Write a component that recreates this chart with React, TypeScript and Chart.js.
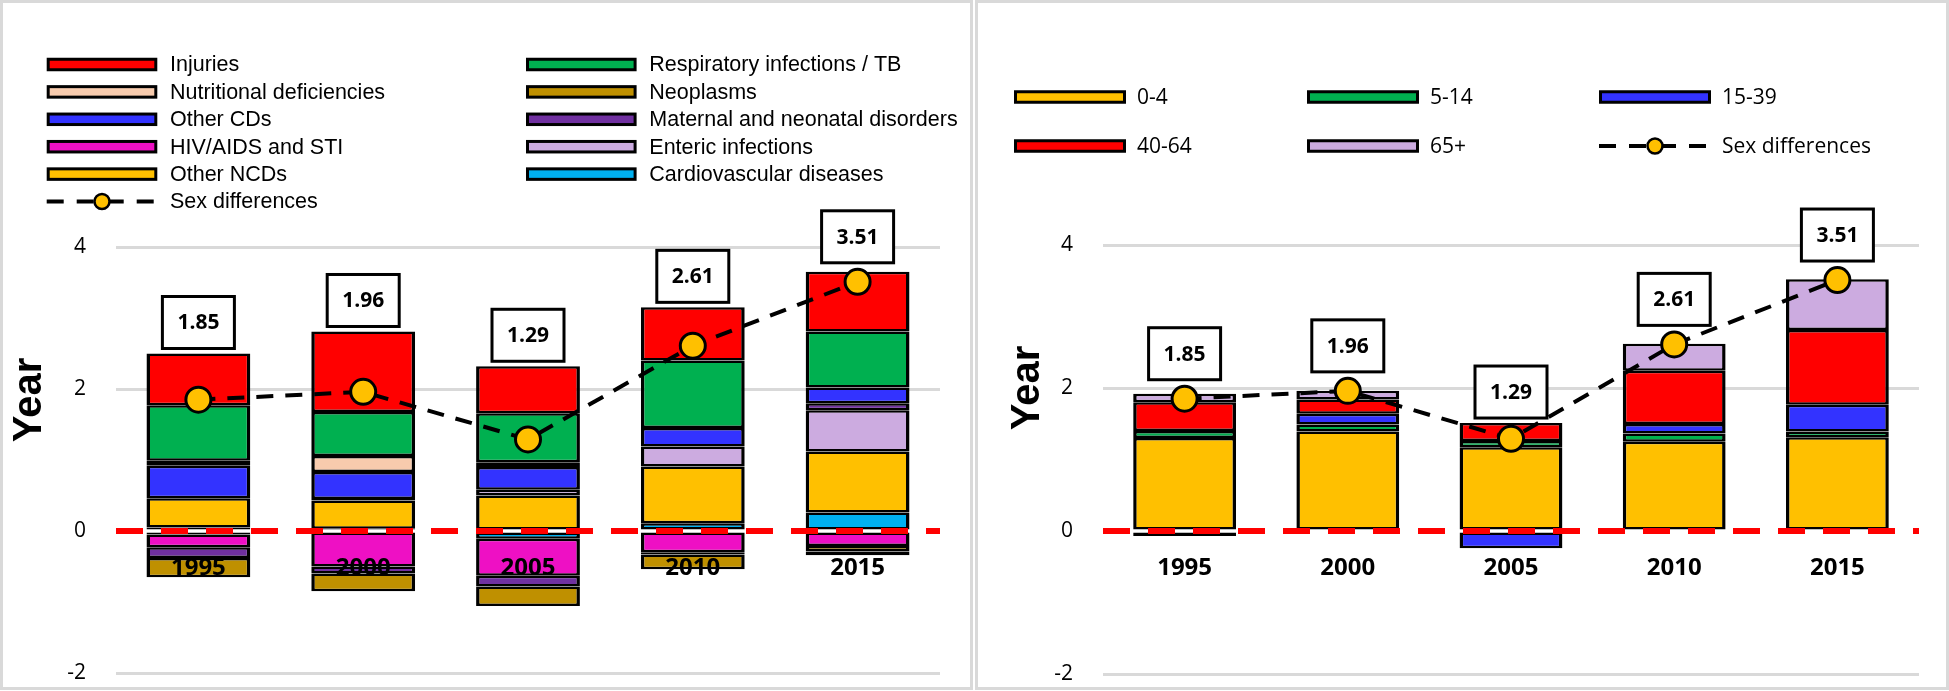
import React, { useEffect, useRef } from 'react';
import { Chart, registerables } from 'chart.js';

Chart.register(...registerables);

// ---------------- DATA ----------------
const years = ['1995', '2000', '2005', '2010', '2015'];
const yTicks = [-2, 0, 2, 4];
const sexDifferences = [1.85, 1.96, 1.29, 2.61, 3.51];

// Left panel: causes, in stacking order (bottom -> top)
const cardiovascular = [0.05, 0.03, -0.11, 0.11, 0.26];
const otherNCDs = [0.41, 0.40, 0.50, 0.80, 0.86];
const enteric = [-0.05, 0.02, 0.08, 0.28, 0.58];
const hivAids = [-0.18, -0.50, -0.52, -0.30, -0.21];
const maternal = [-0.15, -0.10, -0.15, -0.03, 0.10];
const otherCDs = [0.46, 0.38, 0.32, 0.26, 0.22];
const neoplasms = [-0.27, -0.25, -0.275, -0.21, -0.08];
const nutritional = [0.07, 0.225, 0.07, 0, -0.05];
const respiratory = [0.78, 0.62, 0.69, 0.95, 0.79];
const injuries = [0.73, 1.135, 0.66, 0.75, 0.84];

// Right panel: age groups, in stacking order (bottom -> top)
const age0to4 = [1.30, 1.39, 1.17, 1.25, 1.31];
const age5to14 = [0.10, 0.10, 0.09, 0.115, 0.08];
const age15to39 = [-0.07, 0.15, -0.24, 0.13, 0.375];
const age40to64 = [0.40, 0.20, 0.25, 0.745, 1.045];
const age65plus = [0.12, 0.12, 0, 0.38, 0.71];

// ---------------- STYLE ----------------
const C = {
  red: '#FF0000',
  green: '#00B050',
  peach: '#F8CBAD',
  gold: '#BF9000',
  blue: '#3333FF',
  purple: '#7030A0',
  magenta: '#EE10C4',
  lavender: '#CCABE0',
  yellow: '#FFC000',
  cyan: '#00B0F0',
};

const SEX_LABEL = 'Sex differences';

type Series = { label: string; data: number[]; color: string };

const causeSeries: Series[] = [
  { label: 'Cardiovascular diseases', data: cardiovascular, color: C.cyan },
  { label: 'Other NCDs', data: otherNCDs, color: C.yellow },
  { label: 'Enteric infections', data: enteric, color: C.lavender },
  { label: 'HIV/AIDS and STI', data: hivAids, color: C.magenta },
  { label: 'Maternal and neonatal disorders', data: maternal, color: C.purple },
  { label: 'Other CDs', data: otherCDs, color: C.blue },
  { label: 'Neoplasms', data: neoplasms, color: C.gold },
  { label: 'Nutritional deficiencies', data: nutritional, color: C.peach },
  { label: 'Respiratory infections / TB', data: respiratory, color: C.green },
  { label: 'Injuries', data: injuries, color: C.red },
];

const ageSeries: Series[] = [
  { label: '0-4', data: age0to4, color: C.yellow },
  { label: '5-14', data: age5to14, color: C.green },
  { label: '15-39', data: age15to39, color: C.blue },
  { label: '40-64', data: age40to64, color: C.red },
  { label: '65+', data: age65plus, color: C.lavender },
];

// legend layout (columns of labels)
const causeLegendColumns = [
  ['Injuries', 'Nutritional deficiencies', 'Other CDs', 'HIV/AIDS and STI', 'Other NCDs', SEX_LABEL],
  ['Respiratory infections / TB', 'Neoplasms', 'Maternal and neonatal disorders', 'Enteric infections', 'Cardiovascular diseases'],
];
const ageLegendColumns = [
  ['0-4', '40-64'],
  ['5-14', '65+'],
  ['15-39', SEX_LABEL],
];

type LegendCfg = {
  colX: number[];
  rowY: number[];
  swatchW: number;
  textOffset: number;
  font: string;
};

type PanelCfg = {
  id: string;
  series: Series[];
  legendColumns: string[][];
  width: number;
  height: number;
  padding: { top: number; bottom: number; left: number; right: number };
  yAxisWidth: number;
  yearTitle: { x: number; y: number };
  legend: LegendCfg;
};

const leftPanel: PanelCfg = {
  id: 'causes',
  series: causeSeries,
  legendColumns: causeLegendColumns,
  width: 967,
  height: 684,
  padding: { top: 244, bottom: 14, left: 0, right: 30 },
  yAxisWidth: 113,
  yearTitle: { x: 27, y: 397 },
  legend: {
    colX: [43.7, 523],
    rowY: [61.5, 88.9, 116.3, 143.7, 171.1, 198.5],
    swatchW: 110.6,
    textOffset: 123.3,
    font: '21.5px "Liberation Sans", Arial, sans-serif',
  },
};

const rightPanel: PanelCfg = {
  id: 'ages',
  series: ageSeries,
  legendColumns: ageLegendColumns,
  width: 968,
  height: 684,
  padding: { top: 242, bottom: 13, left: 0, right: 27 },
  yAxisWidth: 125,
  yearTitle: { x: 50, y: 385 },
  legend: {
    colX: [36, 329, 621],
    rowY: [94, 143],
    swatchW: 112,
    textOffset: 123,
    font: '21px "Open Sans", sans-serif',
  },
};

function makePlugin(cfg: PanelCfg) {
  const colorOf = (label: string) => {
    const s = cfg.series.find((x) => x.label === label);
    return s ? s.color : '#000';
  };
  return {
    id: 'panelDecor_' + cfg.id,
    beforeDatasetsDraw(chart: any) {
      // value boxes
      const ctx = chart.ctx;
      const xs = chart.scales.x;
      const ys = chart.scales.y;
      ctx.save();
      sexDifferences.forEach((v, i) => {
        let posTotal = 0;
        cfg.series.forEach((s) => {
          if (s.data[i] > 0) posTotal += s.data[i];
        });
        const barTop = ys.getPixelForValue(posTotal);
        const ptTop = ys.getPixelForValue(v) - 14;
        const bottom = Math.min(barTop, ptTop) - 5;
        const w = 72;
        const h = 52;
        const cx = xs.getPixelForValue(i);
        ctx.fillStyle = '#fff';
        ctx.fillRect(cx - w / 2, bottom - h, w, h);
        ctx.lineWidth = 3;
        ctx.strokeStyle = '#000';
        ctx.strokeRect(cx - w / 2, bottom - h, w, h);
        ctx.fillStyle = '#000';
        ctx.font = 'bold 21px "Open Sans", sans-serif';
        ctx.textAlign = 'center';
        ctx.textBaseline = 'middle';
        ctx.fillText(v.toFixed(2), cx, bottom - h / 2 + 1);
      });
      ctx.restore();
    },
    afterDatasetsDraw(chart: any) {
      const ctx = chart.ctx;
      const xs = chart.scales.x;
      const ys = chart.scales.y;
      const area = chart.chartArea;
      const y0 = ys.getPixelForValue(0);
      ctx.save();
      // category labels next to the zero line
      ctx.fillStyle = '#000';
      ctx.font = 'bold 24px "Open Sans", sans-serif';
      ctx.textAlign = 'center';
      ctx.textBaseline = 'middle';
      years.forEach((yr, i) => {
        ctx.fillText(yr, xs.getPixelForValue(i), y0 + 37);
      });
      // red dashed zero line
      ctx.strokeStyle = '#FF0000';
      ctx.lineWidth = 6;
      ctx.setLineDash([27, 18]);
      ctx.beginPath();
      ctx.moveTo(area.left, y0);
      ctx.lineTo(area.right, y0);
      ctx.stroke();
      ctx.restore();
    },
    afterDraw(chart: any) {
      const ctx = chart.ctx;
      ctx.save();
      // Y axis title
      ctx.translate(cfg.yearTitle.x, cfg.yearTitle.y);
      ctx.rotate(-Math.PI / 2);
      ctx.fillStyle = '#000';
      ctx.font = 'bold 40px "Liberation Sans", Arial, sans-serif';
      ctx.textAlign = 'center';
      ctx.textBaseline = 'middle';
      ctx.fillText('Year', 0, 0);
      ctx.restore();

      // Legend
      const L = cfg.legend;
      ctx.save();
      ctx.font = L.font;
      ctx.textBaseline = 'middle';
      ctx.textAlign = 'left';
      cfg.legendColumns.forEach((col, ci) => {
        col.forEach((label, ri) => {
          const x = L.colX[ci];
          const y = L.rowY[ri];
          if (label === SEX_LABEL) {
            ctx.strokeStyle = '#000';
            ctx.lineWidth = 4;
            ctx.setLineDash([17, 13]);
            ctx.beginPath();
            ctx.moveTo(x, y);
            ctx.lineTo(x + L.swatchW, y);
            ctx.stroke();
            ctx.setLineDash([]);
            ctx.beginPath();
            ctx.arc(x + L.swatchW / 2, y, 7.5, 0, Math.PI * 2);
            ctx.fillStyle = C.yellow;
            ctx.fill();
            ctx.lineWidth = 2.5;
            ctx.stroke();
          } else {
            ctx.fillStyle = colorOf(label);
            ctx.fillRect(x + 1.5, y - 5.25, L.swatchW - 3, 10.5);
            ctx.strokeStyle = '#000';
            ctx.lineWidth = 3;
            ctx.setLineDash([]);
            ctx.strokeRect(x + 1.5, y - 5.25, L.swatchW - 3, 10.5);
          }
          ctx.fillStyle = '#000';
          ctx.fillText(label, x + L.textOffset, y + 1);
        });
      });
      ctx.restore();
    },
  };
}

function Panel({ cfg }: { cfg: PanelCfg }) {
  const ref = useRef<HTMLCanvasElement | null>(null);
  useEffect(() => {
    if (!ref.current) return;
    const barSets = cfg.series.map((s) => ({
      type: 'bar' as const,
      label: s.label,
      data: s.data,
      backgroundColor: s.color,
      borderColor: '#000',
      borderWidth: { top: 2.5, bottom: 2.5, left: 3.5, right: 3.5 },
      borderSkipped: false,
      stack: 'bars',
      order: 1,
      barPercentage: 0.63,
      categoryPercentage: 1,
    }));
    const lineSet = {
      type: 'line' as const,
      label: SEX_LABEL,
      data: sexDifferences,
      borderColor: '#000',
      borderWidth: 4,
      borderDash: [17, 12],
      pointRadius: 12.5,
      pointBackgroundColor: C.yellow,
      pointBorderColor: '#000',
      pointBorderWidth: 3,
      tension: 0,
      fill: false,
      stack: 'sex',
      order: 0,
    };
    const chart = new Chart(ref.current, {
      data: { labels: years, datasets: [...barSets, lineSet] as any },
      options: {
        responsive: false,
        animation: false,
        events: [],
        layout: { padding: cfg.padding, autoPadding: false },
        plugins: {
          legend: { display: false },
          tooltip: { enabled: false },
          title: { display: false },
        },
        scales: {
          x: {
            type: 'category',
            stacked: true,
            display: false,
            offset: true,
          },
          y: {
            stacked: true,
            min: yTicks[0],
            max: yTicks[yTicks.length - 1],
            afterFit: (scale: any) => {
              scale.width = cfg.yAxisWidth;
              scale.paddingTop = 0;
              scale.paddingBottom = 0;
            },
            afterBuildTicks: (scale: any) => {
              scale.ticks = yTicks.map((v) => ({ value: v }));
            },
            border: { display: false },
            grid: {
              drawTicks: false,
              lineWidth: 3,
              color: (c: any) => (c.tick && c.tick.value === 0 ? 'rgba(0,0,0,0)' : '#D9D9D9'),
            },
            ticks: {
              padding: 30,
              color: '#000',
              font: { family: '"Open Sans", sans-serif', size: 21 },
            },
          },
        },
      } as any,
      plugins: [makePlugin(cfg)],
    });
    return () => chart.destroy();
  }, [cfg]);
  return <canvas ref={ref} width={cfg.width} height={cfg.height} style={{ display: 'block' }} />;
}

export default function App() {
  return (
    <div style={{ position: 'fixed', left: 0, top: 0, width: 1949, height: 691, background: '#fff' }}>
      <div
        style={{
          position: 'absolute',
          left: 0,
          top: 0,
          width: leftPanel.width,
          height: leftPanel.height,
          border: '3px solid #D9D9D9',
        }}
      >
        <Panel cfg={leftPanel} />
      </div>
      <div
        style={{
          position: 'absolute',
          left: 975,
          top: 0,
          width: rightPanel.width,
          height: rightPanel.height,
          border: '3px solid #D9D9D9',
        }}
      >
        <Panel cfg={rightPanel} />
      </div>
    </div>
  );
}
